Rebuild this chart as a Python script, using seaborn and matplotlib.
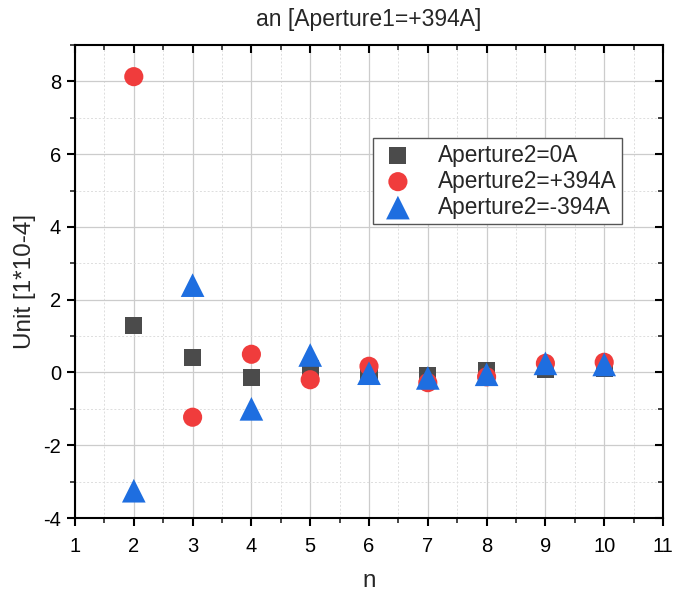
import matplotlib
matplotlib.use("Agg")
import matplotlib.pyplot as plt
import seaborn as sns
import pandas as pd
from matplotlib.ticker import MultipleLocator

n = [2, 3, 4, 5, 6, 7, 8, 9, 10]
ap_0A = [1.30, 0.42, -0.15, 0.12, -0.05, -0.08, 0.05, 0.08, 0.10]
ap_p394 = [8.13, -1.23, 0.50, -0.20, 0.17, -0.28, -0.12, 0.25, 0.28]
ap_m394 = [-3.25, 2.40, -1.00, 0.48, -0.02, -0.15, -0.05, 0.25, 0.22]
labels = ["Aperture2=0A", "Aperture2=+394A", "Aperture2=-394A"]

df = pd.concat([
    pd.DataFrame({"n": n, "v": ap_0A, "s": labels[0]}),
    pd.DataFrame({"n": n, "v": ap_p394, "s": labels[1]}),
    pd.DataFrame({"n": n, "v": ap_m394, "s": labels[2]}),
])

sns.set_theme(style="white")
plt.rcParams['font.family'] = ['Liberation Sans', 'DejaVu Sans']
plt.rcParams['axes.unicode_minus'] = False

fig = plt.figure(figsize=(6.73, 5.91), dpi=100)
ax = fig.add_axes([75/673, 1-518/591, (663-75)/673, (518-45)/591])

palette = {labels[0]: "#4b4b4b", labels[1]: "#f03c3c", labels[2]: "#1e6ee0"}
markers = {labels[0]: "s", labels[1]: "o", labels[2]: "^"}
sizes = {labels[0]: 150, labels[1]: 190, labels[2]: 290}
for lab in labels:
    sub = df[df.s == lab]
    sns.scatterplot(data=sub, x="n", y="v", color=palette[lab], marker=markers[lab],
                    s=sizes[lab], edgecolor="none", ax=ax, label=lab, zorder=3)

ax.set_xlim(1, 11)
ax.set_ylim(-4, 9)
ax.xaxis.set_major_locator(MultipleLocator(1))
ax.xaxis.set_minor_locator(MultipleLocator(0.5))
ax.yaxis.set_major_locator(MultipleLocator(2))
ax.yaxis.set_minor_locator(MultipleLocator(1))
ax.grid(True, which="major", color="#cccccc", lw=0.9, ls="-", zorder=0)
ax.grid(True, which="minor", color="#dddddd", lw=0.7, ls=(0, (2, 2)), zorder=0)
ax.set_axisbelow(True)
for sp in ax.spines.values():
    sp.set_color("black")
    sp.set_linewidth(1.5)
ax.tick_params(axis="both", which="major", direction="out", length=6, width=1.5,
               labelsize=14.5, colors="black", bottom=True, left=True)
ax.tick_params(axis="x", which="major", pad=8)
ax.tick_params(axis="y", which="major", pad=4)
ax.tick_params(axis="both", which="minor", direction="out", length=3.5, width=1.2,
               bottom=True, left=True)
ax.tick_params(axis="both", which="both", top=True, right=True)
for t in ax.xaxis.get_major_ticks() + ax.xaxis.get_minor_ticks():
    t.tick2line.set_marker(3)
for t in ax.yaxis.get_major_ticks() + ax.yaxis.get_minor_ticks():
    t.tick2line.set_marker(0)

ax.set_xlabel("n", fontsize=17.5, labelpad=10)
ax.set_ylabel("Unit [1*10-4]", fontsize=17.5, labelpad=5)
ax.set_title("an [Aperture1=+394A]", fontsize=16.5, pad=14)

leg = ax.legend(loc="upper left", bbox_to_anchor=(298/588, 1-93/473), fontsize=16.3,
                frameon=True, fancybox=False, edgecolor="#555555", framealpha=1,
                borderpad=0.25, labelspacing=0.13, handletextpad=0.9, markerscale=1.0,
                borderaxespad=0, handlelength=1.7)
leg.get_frame().set_linewidth(1.0)

fig.savefig("out.png", dpi=100)
